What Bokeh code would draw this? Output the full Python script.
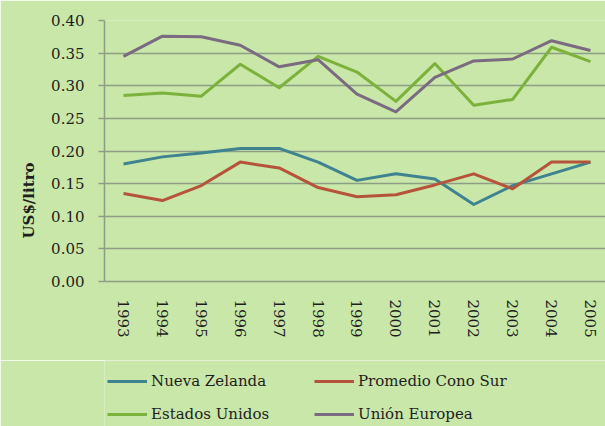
import math
from bokeh.plotting import figure
from bokeh.layouts import column
from bokeh.models import Range1d, FixedTicker, Legend, LegendItem, Title, NumeralTickFormatter
from bokeh.embed import file_html
from bokeh.resources import INLINE

years = [1993, 1994, 1995, 1996, 1997, 1998, 1999, 2000, 2001, 2002, 2003, 2004, 2005]
nueva_zelanda = [0.180, 0.191, 0.197, 0.204, 0.204, 0.183, 0.155, 0.165, 0.157, 0.118, 0.147, 0.165, 0.183]
promedio_cono_sur = [0.135, 0.124, 0.147, 0.183, 0.174, 0.144, 0.130, 0.133, 0.148, 0.165, 0.142, 0.183, 0.183]
estados_unidos = [0.285, 0.289, 0.284, 0.333, 0.297, 0.345, 0.321, 0.276, 0.334, 0.270, 0.279, 0.359, 0.337]
union_europea = [0.345, 0.376, 0.375, 0.362, 0.329, 0.340, 0.287, 0.260, 0.313, 0.338, 0.341, 0.369, 0.354]
series_names = ["Nueva Zelanda", "Promedio Cono Sur", "Estados Unidos", "Unión Europea"]
y_ticks = [0.0, 0.05, 0.10, 0.15, 0.20, 0.25, 0.30, 0.35, 0.40]
y_label = "US$/litro"

colors = ["#3f8391", "#b5543b", "#7cb23b", "#7a6b81"]
BG = "#c9e7a8"
GRID = "#8e9d85"
FONT = "DejaVu Serif"
TXT = "#1e1e1e"

series = [nueva_zelanda, promedio_cono_sur, estados_unidos, union_europea]

step = 38.92
p = figure(width=605, height=360, output_backend="svg", toolbar_location=None,
           x_range=Range1d(years[0] - 19 / step, years[-1] + 15 / step),
           y_range=Range1d(0, 0.40),
           min_border_left=104, min_border_right=0, min_border_top=20, min_border_bottom=79)
p.background_fill_color = BG
p.border_fill_color = BG
p.outline_line_color = None

p.xgrid.grid_line_color = None
p.ygrid.grid_line_color = GRID
p.ygrid.grid_line_width = 1.5
p.ygrid.ticker = FixedTicker(ticks=y_ticks)

p.yaxis.ticker = FixedTicker(ticks=y_ticks)
p.yaxis.formatter = NumeralTickFormatter(format="0.00")
p.yaxis.axis_line_color = GRID
p.yaxis.axis_line_width = 1.5
p.yaxis.major_tick_line_color = GRID
p.yaxis.major_tick_line_width = 1.5
p.yaxis.major_tick_out = 6
p.yaxis.major_tick_in = 0
p.yaxis.minor_tick_line_color = None
p.yaxis.major_label_standoff = 14
p.yaxis.major_label_text_font = FONT
p.yaxis.major_label_text_font_size = "15px"
p.yaxis.major_label_text_color = TXT

p.xaxis.ticker = FixedTicker(ticks=years)
p.xaxis.axis_line_color = GRID
p.xaxis.axis_line_width = 1.5
p.xaxis.major_tick_line_color = None
p.xaxis.minor_tick_line_color = None
p.xaxis.major_tick_out = 0
p.xaxis.major_tick_in = 0
p.xaxis.major_label_orientation = -math.pi / 2
p.xaxis.major_label_standoff = 18
p.xaxis.major_label_text_font = FONT
p.xaxis.major_label_text_font_size = "15px"
p.xaxis.major_label_text_color = TXT

for vals, c in zip(series, colors):
    p.line(years, vals, line_color=c, line_width=3, line_join="round")

p.add_layout(Title(text=y_label, align="left", offset=43, standoff=17, vertical_align="top",
                   text_font=FONT, text_font_style="bold", text_font_size="15px",
                   text_color=TXT), "left")

# legend strip below the chart (its lines lie outside its own ranges; only the keys show)
lg = figure(width=605, height=66, output_backend="svg", toolbar_location=None,
            x_range=Range1d(0, 1), y_range=Range1d(0, 1),
            min_border_left=0, min_border_right=0, min_border_top=0, min_border_bottom=0,
            x_axis_location=None, y_axis_location=None)
lg.background_fill_color = BG
lg.border_fill_color = BG
lg.outline_line_color = None
lg.grid.visible = False
keys = [lg.line(years, vals, line_color=c, line_width=3) for vals, c in zip(series, colors)]

def make_legend(idx, y):
    return Legend(items=[LegendItem(label=series_names[i], renderers=[keys[i]]) for i in idx],
                  location=(3, y), orientation="horizontal",
                  glyph_width=40, glyph_height=20, label_height=20, label_width=150,
                  label_standoff=4, spacing=13, padding=0, margin=0,
                  border_line_color=None, background_fill_alpha=0,
                  label_text_font=FONT, label_text_font_size="15px",
                  label_text_color=TXT)

lg.add_layout(make_legend([0, 1], 35))
lg.add_layout(make_legend([2, 3], 2))

open("out.html", "w").write(file_html(column(p, lg, spacing=0), INLINE))
